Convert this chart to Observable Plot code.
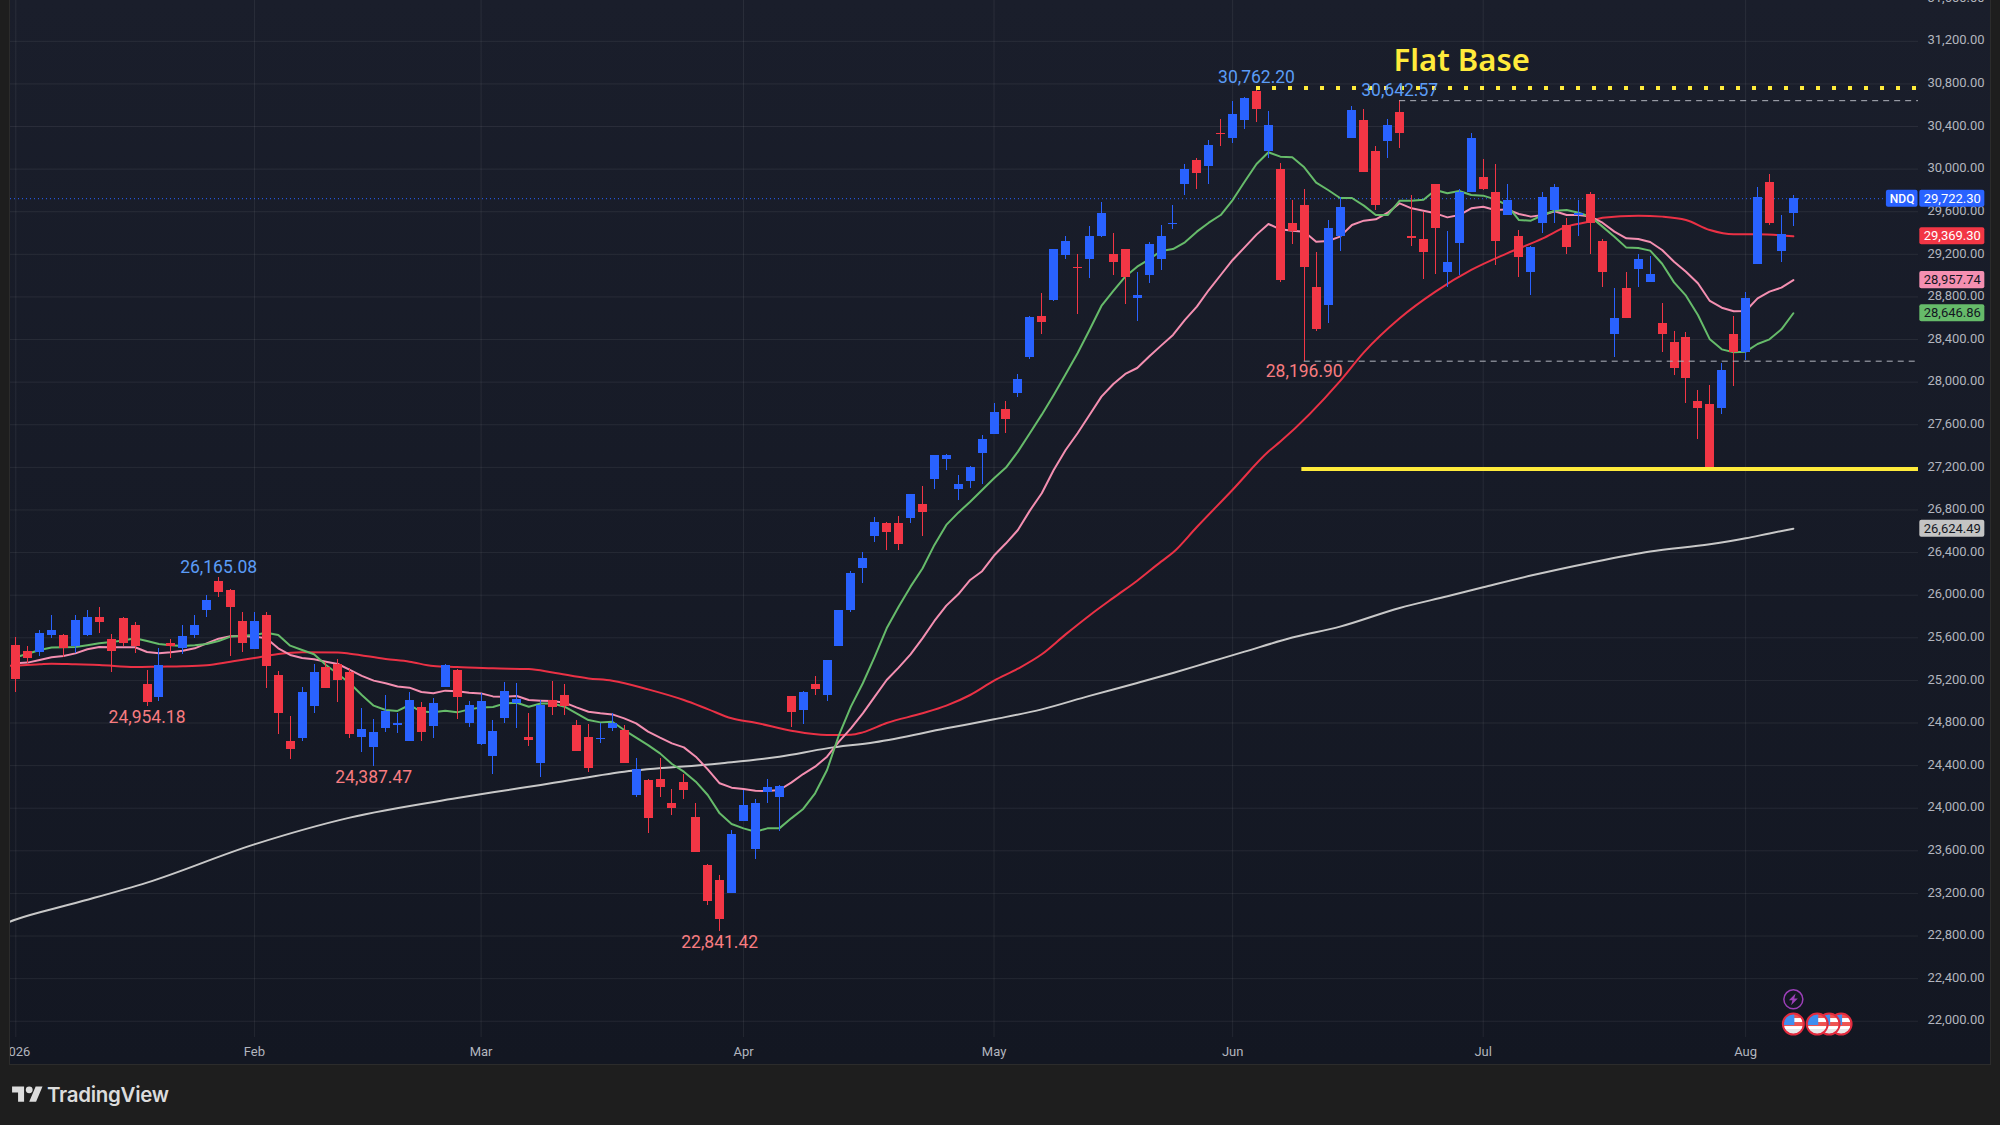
<!DOCTYPE html>
<html>
<head>
<meta charset="utf-8">
<script src="https://cdn.jsdelivr.net/npm/d3@7"></script>
<script src="https://cdn.jsdelivr.net/npm/@observablehq/plot@0.6"></script>
<style>
html,body{margin:0;padding:0;background:#1e1e1e;width:2000px;height:1125px;overflow:hidden}
#panel{position:absolute;left:10px;top:0;width:1980px;height:1064px;background:linear-gradient(#1a1e2b,#131722);box-shadow:0 0 0 1px #2c2c2c}
#footer{position:absolute;left:12px;top:1082px;display:flex;align-items:center;color:#dcdcdc;font:600 20.5px Inter,sans-serif;letter-spacing:-.3px}
#footer svg{width:31px;height:24px;margin-right:4px;fill:#dcdcdc}
</style>
</head>
<body>
<div id="panel"></div>
<div id="footer"><svg viewBox="0 0 36 28"><path d="M14 22H7V11H0V4h14v18ZM28 22h-8l7.5-18h8L28 22Z"/><circle cx="20" cy="8" r="4"/></svg><span>TradingView</span></div>
<script>
// Daily NDQ candles, Jan 2 – Aug 7 2026 (150 trading sessions)
const open = [25530,25476,25458,25617,25617,25514,25617,25786,25580,25777,25720,25157,25044,25551,25495,25626,25852,26124,26040,25749,25486,25814,25242,24622,24650,24951,25317,25345,25270,24660,24566,24744,24772,24631,24941,24763,25138,25289,24800,24594,24490,24847,24984,24668,24424,25010,25063,24781,24668,24647,24753,24734,24115,24265,24274,24049,24246,23917,23467,23317,23204,23880,23617,24143,24105,25053,24913,25166,25063,25514,25852,26255,26547,26669,26669,26716,26847,27082,27270,26988,27063,27326,27504,27739,27889,28227,28621,28762,29185,29072,29156,29363,29194,29250,28790,28997,29147,29479,29851,30085,30029,30339,30292,30461,30733,30170,29992,29485,29654,28893,28724,29372,30283,30461,30161,30255,30536,29372,29335,29851,29034,29306,29785,29917,29785,29569,29363,29025,29485,29616,29475,29560,29766,29325,28452,28875,29053,28940,28546,28368,28415,27814,27786,27748,28452,28274,29100,29870,29222,29588];
const high = [25605,25520,25664,25814,25627,25814,25852,25880,25627,25786,25739,25289,25504,25580,25711,25805,25993,26165.08,26049,25833,25842,25842,25279,24857,25138,25345,25364,25392,25314,24932,24829,25063,24894,25082,24988,25026,25354,25298,24998,25073,24819,25185,25175,24894,25016,25194,25157,24819,24790,24800,24894,24772,24471,24274,24471,24180,24321,24040,23476,23364,23795,24171,24086,24274,24218,25053,25100,25232,25391,25852,26218,26405,26725,26678,26735,26950,27016,27313,27317,27119,27204,27495,27795,27823,28068,28612,28828,29241,29372,29194,29457,29682,29391,29250,29034,29307,29466,29663,30048,30104,30264,30470,30639,30677,30762.20,30545,30054,29701,29813,29213,29513,29729,30592,30564,30208,30470,30642.57,29748,29597,29851,29419,29804,30330,30086,30048,29851,29428,29278,29776,29860,29541,29701,29776,29335,28875,29025,29194,29184,28734,28480,28462,27926,27964,28171,28612,28846,29832,29954,29569,29748];
const low = [25091,25361,25429,25598,25417,25454,25608,25642,25270,25523,25448,24954.18,24998,25401,25439,25589,25795,25983,25420,25458,25486,25120,24688,24462,24631,24885,25120,24988,24650,24519,24387.47,24707,24697,24631,24622,24650,25138,24829,24754,24585,24321,24800,24753,24584,24293,24875,24866,24528,24340,24612,24725,24424,24105,23767,24105,23936,24086,23580,23091,22841.42,23204,23880,23523,24049,23786,24762,24790,25063,25006,25514,25833,26114,26491,26415,26415,26669,26547,26988,27166,26885,26997,27035,27504,27514,27852,28208,28443,28753,29147,28631,28969,29354,28997,28725,28574,28922,29044,29429,29757,29813,29851,30217,30245,30376,30442,30095,28931,29297,28196.90,28471,28555,29222,30283,29964,29607,30095,30198,29278,28968,29006,28893,28997,29776,29795,29091,29560,28978,28818,29400,29485,29194,29372,29194,28884,28236,28593,28893,28940,28283,28058,27795,27457,27185,27692,27955,28199,29100,29475,29128,29457];
const close = [25204,25401,25645,25664,25504,25767,25795,25739,25467,25542,25523,24988,25336,25514,25608,25720,25946,26021,25880,25551,25749,25335,24885,24547,25082,25270,25120,25195,24688,24735,24707,24907,24800,25016,24707,24979,25336,25035,24969,24998,24725,25100,25025,24640,24969,24950,24959,24528,24377,24656,24797,24424,24359,23899,24190,24002,24162,23580,23129,22951,23749,24030,24049,24199,24208,24903,25091,25110,25391,25852,26208,26340,26678,26584,26472,26941,26781,27307,27307,27035,27195,27457,27711,27645,28021,28603,28556,29241,29325,29063,29372,29588,29119,28987,28818,29297,29363,29485,30001,29963,30226,30329,30517,30667,30564,30414,28950,29410,29081,28499,29447,29635,30546,29964,29663,30405,30339,29344,29213,29438,29119,29776,30283,29804,29325,29701,29166,29260,29729,29832,29260,29588,29494,29025,28593,28602,29156,29006,28452,28124,28030,27757,27185,28114,28274,28781,29738,29485,29382,29722.30];

// Moving averages, one value a session
const maGreen = [25417,25450,25486,25508,25512,25514,25530,25548,25560,25575,25595,25570,25542,25530,25523,25530,25542,25570,25611,25620,25627,25648,25626,25526,25486,25445,25345,25260,25173,25063,24963,24922,24913,24969,24907,24900,24916,24900,24928,24945,24950,24984,24990,24953,24984,24984,24953,24891,24828,24806,24812,24734,24662,24593,24515,24415,24343,24249,24124,23952,23852,23811,23780,23811,23811,23905,23993,24140,24359,24687,24954,25173,25423,25689,25892,26080,26250,26472,26660,26775,26878,26988,27098,27198,27348,27520,27695,27880,28074,28271,28490,28715,28856,28991,29084,29153,29232,29250,29313,29413,29497,29569,29710,29882,30048,30158,30117,30111,30017,29873,29804,29729,29729,29657,29569,29569,29704,29704,29713,29804,29773,29795,29757,29751,29716,29663,29522,29516,29569,29610,29616,29591,29554,29460,29366,29263,29259,29235,29112,28937,28812,28631,28402,28308,28280,28286,28358,28402,28496,28646.86];
const maPink = [25361,25367,25392,25417,25429,25454,25492,25514,25511,25511,25511,25467,25454,25464,25479,25501,25548,25592,25614,25617,25611,25595,25501,25439,25411,25398,25376,25354,25298,25242,25198,25173,25142,25132,25091,25079,25104,25099,25085,25078,25050,25047,25053,25016,25010,25006,24991,24947,24906,24891,24881,24844,24797,24719,24662,24609,24571,24484,24365,24234,24193,24180,24165,24162,24171,24240,24321,24390,24484,24625,24750,24891,25047,25204,25320,25445,25595,25758,25902,26008,26143,26225,26372,26487,26612,26794,26957,27176,27363,27520,27692,27864,27983,28077,28133,28240,28343,28443,28584,28709,28865,29006,29147,29265,29385,29485,29435,29422,29413,29319,29325,29366,29475,29516,29529,29591,29679,29632,29610,29585,29547,29569,29632,29647,29616,29622,29579,29554,29569,29604,29569,29569,29554,29497,29413,29350,29344,29316,29241,29131,29037,28928,28762,28699,28665,28668,28787,28850,28887,28957.74];
// Slower averages, read at the sessions where they bend
const maRedAt = [-1,0,2,3,5,7,10,12,14,16,18,20,22,24,27,28,31,33,35,37,40,43,45,48,50,53,56,58,60,62,65,68,70,71,73,76,78,80,82,84,86,88,90,92,94,96,97,99,102,105,106,111,113,116,119,122,125,128,130,132,133,136,138,140,142,144,146,149];
const maRed = [25335,25339,25351,25357,25351,25345,25326,25329,25332,25342,25376,25411,25448,25464,25461,25451,25401,25376,25335,25326,25313,25307,25275,25219,25197,25116,25016,24931,24844,24803,24728,24687,24690,24712,24800,24891,24963,25063,25198,25310,25445,25632,25810,25975,26136,26315,26400,26640,26990,27348,27442,28010,28280,28600,28850,29053,29209,29350,29460,29510,29544,29563,29554,29522,29428,29388,29388,29369.30];
const maWhiteAt = [-1,0,5,11,20,28,37,40,44,51,59,64,68,72,78,82,86,90,94,97,100,103,107,111,116,120,123,127,132,137,142,145,147,149];
const maWhite = [22915,22955,23110,23302,23661,23912,24095,24150,24218,24343,24421,24484,24562,24620,24750,24835,24928,25055,25176,25270,25370,25470,25602,25705,25880,25990,26074,26184,26305,26410,26478,26534,26580,26624.49];

const monthAt = [0,20,39,61,82,102,123,145];
const monthNames = ["2026","Feb","Mar","Apr","May","Jun","Jul","Aug"];
const priceTicks = d3.range(22000, 31601, 400);

const idx = d3.range(open.length);
const up = i => close[i] >= open[i];
const BLUE="#2962ff", RED="#f23645", YELLOW="#ffeb3b", PINK="#f48fb1", GREEN="#66bb6a", WHITE="#c8c8c8";
const C_HI="#5b9cf6", C_LO="#f77c80";

const last = close[149];
const xEnd = 159.49;
const sweptHigh = 30642.57, sweptLow = 28196.90, peak = 30762.20, flatLow = 27185;

const extremeHighs = [
  {i:17, v:high[17], t:"26,165.08"},
  {i:104,v:high[104],t:"30,762.20"},
  {i:116,v:high[116],t:"30,642.57"}
];
const extremeLows = [
  {i:11, v:low[11],  t:"24,954.18"},
  {i:30, v:low[30],  t:"24,387.47"},
  {i:59, v:low[59],  t:"22,841.42"},
  {i:108,v:low[108], t:"28,196.90"}
];
const tags = [
  {v:last,     t:"29,722.30", bg:BLUE, fg:"#ffffff"},
  {v:29369.30, t:"29,369.30", bg:RED,  fg:"#ffffff"},
  {v:28957.74, t:"28,957.74", bg:PINK, fg:"#131722"},
  {v:28646.86, t:"28,646.86", bg:GREEN,fg:"#131722"},
  {v:26624.49, t:"26,624.49", bg:"#c4c4c4",fg:"#131722"}
];
const TAG0=159.6, TAG1=165.05, TAGH=80;

const flagSvg = "data:image/svg+xml," + encodeURIComponent(
 '<svg xmlns="http://www.w3.org/2000/svg" viewBox="0 0 20 20"><rect width="20" height="20" fill="#fff"/><rect y="0" width="20" height="4" fill="#ef5350"/><rect y="8" width="20" height="4" fill="#ef5350"/><rect y="15" width="20" height="5" fill="#e8e8e8"/><rect width="11" height="11" fill="#3f8ef0"/></svg>');
const boltSvg = "data:image/svg+xml," + encodeURIComponent(
 '<svg xmlns="http://www.w3.org/2000/svg" viewBox="0 0 20 20"><path d="M12.5 3.5 5 11h4l-1.5 5.5L15 9h-4z" fill="#9c3fb8"/></svg>');
const eventAt = [153,152,151,149];
const EV_Y=21974, BOLT_Y=22206;

const chart = Plot.plot({
  width:1980, height:1064,
  marginTop:0, marginLeft:0, marginRight:72, marginBottom:27,
  style:{background:"transparent", overflow:"hidden", fontFamily:"Roboto, sans-serif"},
  x:{type:"linear", domain:[-0.444,xEnd], axis:null},
  y:{type:"linear", domain:[21847.6,31583], axis:null},
  marks:[
    Plot.gridY(priceTicks,{stroke:"#ffffff",strokeOpacity:0.07,strokeWidth:1}),
    Plot.gridX(monthAt,{stroke:"#ffffff",strokeOpacity:0.07,strokeWidth:1}),
    Plot.ruleY([last],{stroke:BLUE,strokeWidth:1,strokeDasharray:"1,3"}),

    Plot.line(maWhite,{x:(d,i)=>maWhiteAt[i],y:d=>d,stroke:WHITE,strokeWidth:2,curve:"monotone-x"}),
    Plot.line(maRed,{x:(d,i)=>maRedAt[i],y:d=>d,stroke:"#ea3145",strokeWidth:2,curve:"monotone-x"}),
    Plot.line(maPink,{x:(d,i)=>i,y:d=>d,stroke:PINK,strokeWidth:2}),
    Plot.line(maGreen,{x:(d,i)=>i,y:d=>d,stroke:GREEN,strokeWidth:2}),

    Plot.ruleX(idx,{x:i=>i,y1:i=>low[i],y2:i=>high[i],stroke:i=>up(i)?BLUE:RED,strokeWidth:1,shapeRendering:"crispEdges"}),
    Plot.ruleX(idx,{x:i=>i,y1:i=>open[i],y2:i=>close[i],stroke:i=>up(i)?BLUE:RED,strokeWidth:9,shapeRendering:"crispEdges"}),

    Plot.ruleY([sweptHigh],{x1:116,x2:xEnd,stroke:"#b2b5be",strokeWidth:1,strokeDasharray:"6,5"}),
    Plot.ruleY([sweptLow],{x1:108,x2:xEnd,stroke:"#b2b5be",strokeWidth:1,strokeDasharray:"6,5"}),
    Plot.ruleY([peak],{x1:104,x2:xEnd,stroke:YELLOW,strokeWidth:4,strokeDasharray:"4,12"}),
    Plot.ruleY([flatLow],{x1:107.8,x2:xEnd,stroke:YELLOW,strokeWidth:4}),

    Plot.text(["Flat Base"],{x:121.2,y:31012,text:d=>d,fill:YELLOW,fontSize:31,fontWeight:600,fontFamily:"'Noto Sans', sans-serif"}),
    Plot.text(extremeHighs,{x:"i",y:"v",text:"t",fill:C_HI,dy:-10.5,fontSize:17.5}),
    Plot.text(extremeLows,{x:"i",y:"v",text:"t",fill:C_LO,dy:10.5,fontSize:17.5}),

    Plot.axisY(priceTicks,{anchor:"right",tickSize:0,tickPadding:9,dy:-1,tickFormat:d3.format(",.2f"),fill:"#b2b5be",fontSize:13,label:null}),
    Plot.axisX(monthAt,{anchor:"bottom",tickSize:0,tickPadding:9,tickFormat:i=>monthNames[monthAt.indexOf(i)],fill:"#b2b5be",fontSize:13,label:null}),

    Plot.rect(tags,{x1:TAG0,x2:TAG1,y1:d=>d.v-TAGH,y2:d=>d.v+TAGH,fill:"bg",rx:2}),
    Plot.text(tags,{x:(TAG0+TAG1)/2,y:"v",text:"t",fill:"fg",fontSize:13}),
    Plot.rect([last],{x1:156.8,x2:159.45,y1:d=>d-TAGH,y2:d=>d+TAGH,fill:BLUE,rx:2}),
    Plot.text(["NDQ"],{x:158.12,y:last,text:d=>d,fill:"#ffffff",fontSize:12,fontWeight:500}),

    // each event icon paints over the previous one
    ...eventAt.flatMap(i => [
      Plot.image([i],{x:d=>d,y:EV_Y,src:flagSvg,r:10}),
      Plot.dot([i],{x:d=>d,y:EV_Y,r:10.5,stroke:"#e32b3e",strokeWidth:2,fill:"none"})
    ]),
    Plot.image([149],{x:d=>d,y:BOLT_Y,src:boltSvg,r:9}),
    Plot.dot([149],{x:d=>d,y:BOLT_Y,r:9.5,stroke:"#9c3fb8",strokeWidth:1.5,fill:"none"})
  ]
});
document.getElementById("panel").appendChild(chart);
</script>
</body>
</html>
